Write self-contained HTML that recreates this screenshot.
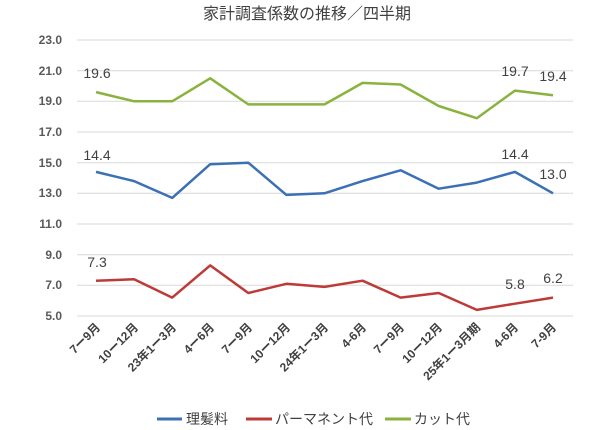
<!DOCTYPE html>
<html><head><meta charset="utf-8"><style>
body{margin:0;background:#fff}
svg{display:block;font-family:"Liberation Sans","Noto Sans CJK JP",sans-serif}
.yl{font-size:12px;font-weight:bold;fill:#595959}
.xl{font-size:12px;font-weight:bold;fill:#404040}
.dl{font-size:14px;fill:#404040}
</style></head><body>
<svg width="600" height="430" viewBox="0 0 600 430">
<text x="307" y="19" text-anchor="middle" font-size="16" fill="#404040">家計調査係数の推移／四半期</text>
<g stroke="#d9d9d9" stroke-width="1">
<line x1="77" x2="573" y1="40" y2="40"/><line x1="77" x2="573" y1="70.7" y2="70.7"/>
<line x1="77" x2="573" y1="101.3" y2="101.3"/><line x1="77" x2="573" y1="132" y2="132"/>
<line x1="77" x2="573" y1="162.7" y2="162.7"/><line x1="77" x2="573" y1="193.3" y2="193.3"/>
<line x1="77" x2="573" y1="224" y2="224"/><line x1="77" x2="573" y1="254.7" y2="254.7"/>
<line x1="77" x2="573" y1="285.3" y2="285.3"/><line x1="77" x2="573" y1="316" y2="316"/>
</g>
<g class="yl" text-anchor="end">
<text x="62" y="44">23.0</text><text x="62" y="75">21.0</text><text x="62" y="105">19.0</text>
<text x="62" y="136">17.0</text><text x="62" y="167">15.0</text><text x="62" y="197">13.0</text>
<text x="62" y="228">11.0</text><text x="62" y="259">9.0</text><text x="62" y="289">7.0</text><text x="62" y="320">5.0</text>
</g>
<g fill="none" stroke-width="2.5" stroke-linejoin="round">
<polyline stroke="#8ab33e" points="96,92.1 134.1,101.3 172.2,101.3 210.2,78.3 248.3,104.4 286.4,104.4 324.5,104.4 362.6,82.9 400.6,84.5 438.7,106 476.8,118.2 514.9,90.6 553,95.2"/>
<polyline stroke="#3b70b5" points="96,171.9 134.1,181.1 172.2,197.9 210.2,164.2 248.3,162.7 286.4,194.9 324.5,193.3 362.6,181.1 400.6,170.3 438.7,188.7 476.8,182.6 514.9,171.9 553,193.3"/>
<polyline stroke="#be3a36" points="96,280.7 134.1,279.2 172.2,297.6 210.2,265.4 248.3,293 286.4,283.8 324.5,286.9 362.6,280.7 400.6,297.6 438.7,293 476.8,309.9 514.9,303.7 553,297.6"/>
</g>
<g class="dl" text-anchor="middle">
<text x="97" y="78">19.6</text><text x="97" y="160">14.4</text><text x="97" y="267">7.3</text>
<text x="515" y="76">19.7</text><text x="553" y="81">19.4</text>
<text x="515" y="159">14.4</text><text x="553" y="179">13.0</text>
<text x="515" y="289">5.8</text><text x="553" y="283">6.2</text>
</g>
<g class="xl" text-anchor="end">
<text transform="translate(101,328) rotate(-45)">7ー9月</text>
<text transform="translate(139,328) rotate(-45)">10ー12月</text>
<text transform="translate(177,328) rotate(-45)">23年1ー3月</text>
<text transform="translate(215,328) rotate(-45)">4ー6月</text>
<text transform="translate(253,328) rotate(-45)">7ー9月</text>
<text transform="translate(291,328) rotate(-45)">10ー12月</text>
<text transform="translate(329,328) rotate(-45)">24年1ー3月</text>
<text transform="translate(367,328) rotate(-45)">4-6月</text>
<text transform="translate(405,328) rotate(-45)">7ー9月</text>
<text transform="translate(443,328) rotate(-45)">10ー12月</text>
<text transform="translate(481,328) rotate(-45)">25年1ー3月期</text>
<text transform="translate(519,328) rotate(-45)">4-6月</text>
<text transform="translate(557,328) rotate(-45)">7-9月</text>
</g>
<g stroke-width="3">
<line x1="157" x2="182" y1="419" y2="419" stroke="#3b70b5"/>
<line x1="246" x2="272" y1="419" y2="419" stroke="#be3a36"/>
<line x1="385" x2="411" y1="419" y2="419" stroke="#8ab33e"/>
</g>
<g font-size="14" fill="#404040">
<text x="186" y="424">理髪料</text>
<text x="275" y="424">パーマネント代</text>
<text x="414" y="424">カット代</text>
</g>
</svg>
</body></html>
